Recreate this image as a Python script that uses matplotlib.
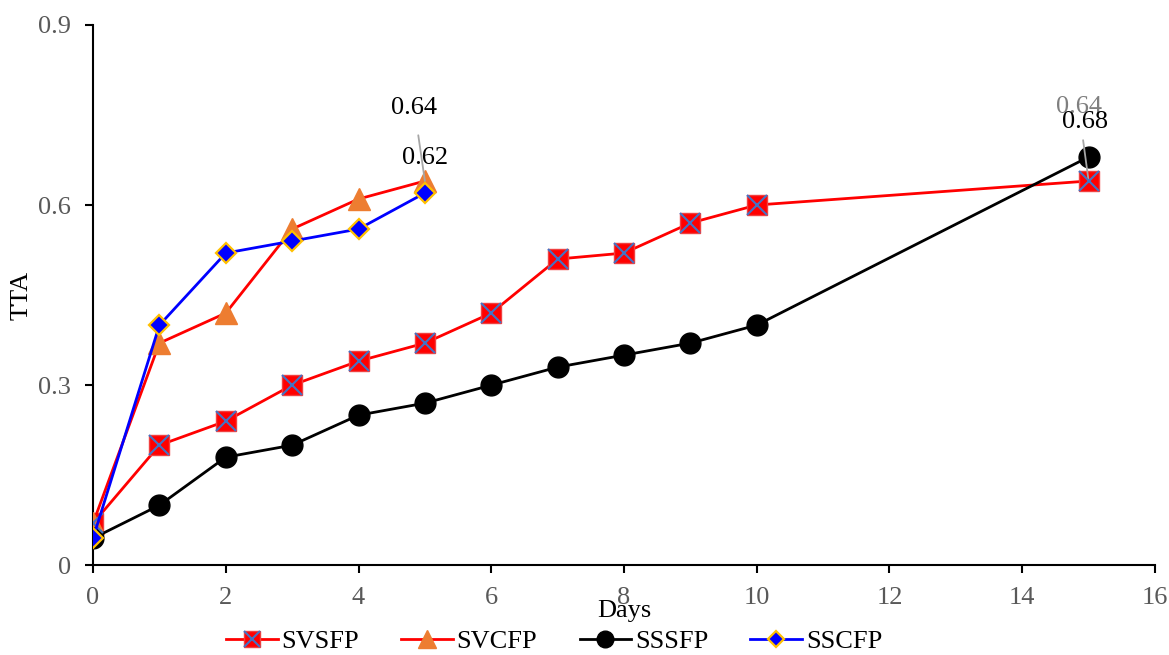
import matplotlib.pyplot as plt
import numpy as np
from matplotlib.lines import Line2D

plt.rcParams['font.family'] = ['Liberation Serif', 'DejaVu Serif']

# data
days_long = [0, 1, 2, 3, 4, 5, 6, 7, 8, 9, 10, 15]
days_short = [0, 1, 2, 3, 4, 5]
svsfp = [0.07, 0.20, 0.24, 0.30, 0.34, 0.37, 0.42, 0.51, 0.52, 0.57, 0.60, 0.64]
svcfp = [0.07, 0.37, 0.42, 0.56, 0.61, 0.64]
sssfp = [0.045, 0.10, 0.18, 0.20, 0.25, 0.27, 0.30, 0.33, 0.35, 0.37, 0.40, 0.68]
sscfp = [0.045, 0.40, 0.52, 0.54, 0.56, 0.62]

FS = 19
LW = 2.0

fig = plt.figure(figsize=(11.69, 6.55), dpi=100)
ax = fig.add_axes([0.0796, 0.137, 0.9084, 0.825])

sq = dict(color='red', lw=LW, marker='s', ms=15, mfc='red', mec='#f04040')
cr = dict(ls='none', marker='x', ms=14, mew=1.5, color='#4472c4')
tri = dict(color='red', lw=LW, marker='^', ms=16, mfc='#ed7d31', mec='#ed7d31')
circ = dict(color='black', lw=LW, marker='o', ms=15, mfc='black', mec='black')
dia = dict(color='blue', lw=LW, marker='D', ms=10, mfc='blue', mec='#ffc000', mew=1.6)

ax.plot(days_long, svsfp, zorder=3, **sq)
ax.plot(days_long, svsfp, zorder=4, **cr)
ax.plot(days_short, svcfp, zorder=3, **tri)
ax.plot(days_long, sssfp, zorder=3, **circ)
ax.plot(days_short, sscfp, zorder=5, **dia)

# data labels
ax.annotate(f'{svcfp[-1]:.2f}', xy=(days_short[-1], svcfp[-1]), xytext=(4.84, 0.762),
            fontsize=FS, ha='center', va='center',
            arrowprops=dict(arrowstyle='-', color='#a6a6a6', lw=1.3, shrinkA=10, shrinkB=0))
ax.text(5.0, 0.679, f'{sscfp[-1]:.2f}', fontsize=FS, ha='center', va='center')
ax.annotate(f'{svsfp[-1]:.2f}', xy=(days_long[-1], svsfp[-1]), xytext=(14.85, 0.763),
            fontsize=FS, ha='center', va='center', color='#7f7f7f',
            arrowprops=dict(arrowstyle='-', color='#a6a6a6', lw=1.3, shrinkA=14, shrinkB=0))
ax.text(14.95, 0.738, f'{sssfp[-1]:.2f}', fontsize=FS, ha='center', va='center')

ax.set_xlim(0, 16)
ax.set_ylim(0, 0.9)
ax.set_xticks(np.arange(0, 17, 2))
ax.set_yticks([0, 0.3, 0.6, 0.9])
ax.set_yticklabels(['0', '0.3', '0.6', '0.9'])
ax.tick_params(labelsize=FS, labelcolor='#595959', length=6, width=1.5)
ax.tick_params(axis='x', pad=10)
ax.tick_params(axis='y', pad=10)
for s in ['top', 'right']:
    ax.spines[s].set_visible(False)
for s in ['left', 'bottom']:
    ax.spines[s].set_linewidth(1.5)
ax.set_xlabel('Days', fontsize=FS, labelpad=-7)
ax.set_ylabel('TTA', fontsize=FS, labelpad=4)

h = [
    (Line2D([], [], **sq), Line2D([], [], **cr)),
    Line2D([], [], **tri),
    Line2D([], [], **circ),
    Line2D([], [], **dia),
]
fig.legend(h, ['SVSFP', 'SVCFP', 'SSSFP', 'SSCFP'], loc='lower center',
           bbox_to_anchor=(0.474, -0.033), ncol=4, frameon=False, fontsize=FS,
           handlelength=1.95, columnspacing=1.6, handletextpad=0.15,
           markerscale=0.8)

fig.savefig('out.png', dpi=100)
